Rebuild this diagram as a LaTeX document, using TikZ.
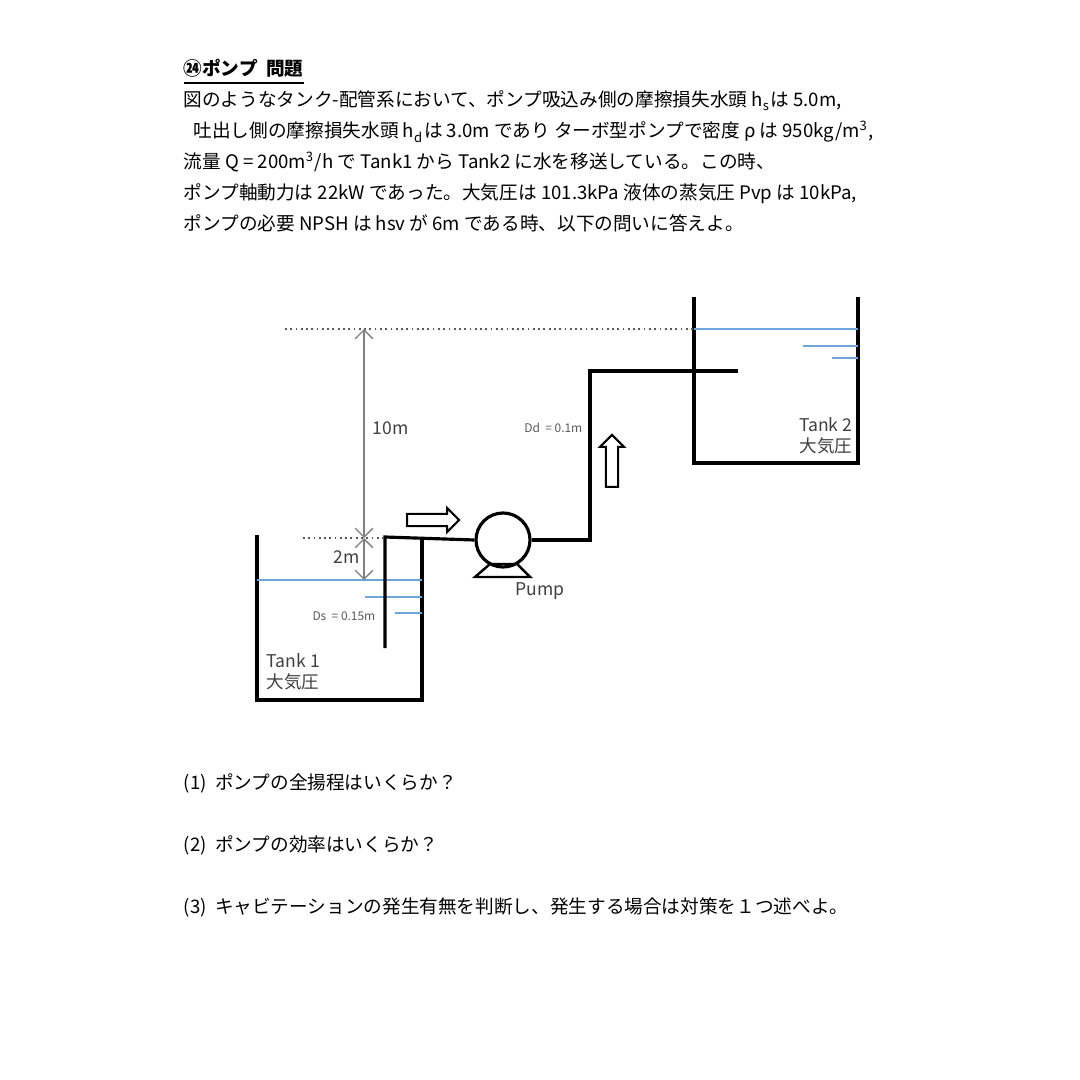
\documentclass[tikz,border=0pt]{standalone}
\usepackage{fontspec}
\setmainfont{Noto Sans CJK JP}
\usetikzlibrary{arrows.meta,shapes.arrows}
\definecolor{water}{RGB}{110,165,220}
\begin{document}
\begin{tikzpicture}[x=0.01cm,y=-0.01cm,
  pipe/.style={line width=0.9pt,black},
  wat/.style={line width=0.5pt,water},
  dots/.style={densely dotted,line width=0.5pt,gray!70!black},
  dim/.style={gray,line width=0.4pt,{Straight Barb[length=2.5pt]}-{Straight Barb[length=2.5pt]}},
  txt/.style={anchor=base west,font=\fontsize{5.3}{6}\selectfont,inner sep=0},
  lbl/.style={font=\fontsize{5}{6}\selectfont,text=black!75,inner sep=0},
  small/.style={font=\fontsize{3.4}{4}\selectfont,text=black!65,inner sep=0},
  harrow/.style={draw,single arrow,line width=0.6pt,minimum height=0.52cm,minimum width=0.24cm,single arrow head extend=0.04cm,inner sep=0.9pt}]
\useasboundingbox (0,0) rectangle (1080,1080);
% text
\node[txt,font=\bfseries\fontsize{5.3}{6}\selectfont] (t0) at (183,76) {\underline{㉔ポンプ\ \ 問題}};
\node[txt] (t1) at (183,107) {図のようなタンク-配管系において、ポンプ吸込み側の摩擦損失水頭 h\textsubscript{s}は 5.0m,};
\node[txt] (t2) at (193,138) {吐出し側の摩擦損失水頭 h\textsubscript{d}は 3.0m であり ターボ型ポンプで密度 ρ は 950kg/m\textsuperscript{3},};
\node[txt] (t3) at (183,169) {流量 Q = 200m\textsuperscript{3}/h で Tank1 から Tank2 に水を移送している。この時、};
\node[txt] (t4) at (183,200) {ポンプ軸動力は 22kW であった。大気圧は 101.3kPa 液体の蒸気圧 Pvp は 10kPa,};
\node[txt] (t5) at (183,231) {ポンプの必要 NPSH は hsv が 6m である時、以下の問いに答えよ。};
\node[txt] (q1) at (183,789) {(1)\ \ ポンプの全揚程はいくらか？};
\node[txt] (q2) at (183,851) {(2)\ \ ポンプの効率はいくらか？};
\node[txt] (q3) at (183,913) {(3)\ \ キャビテーションの発生有無を判断し、発生する場合は対策を１つ述べよ。};
% tanks
\draw[pipe] (257,535) -- (257,700) -- (422,700) -- (422,537);
\draw[pipe] (694,297) -- (694,463) -- (858,463) -- (858,297);
% water
\draw[wat] (257,580) -- (422,580);
\draw[wat] (365,597) -- (422,597);
\draw[wat] (395,613) -- (422,613);
\draw[wat] (694,329) -- (858,329);
\draw[wat] (803,346) -- (858,346);
\draw[wat] (832,358) -- (858,358);
% pump
\node[draw,circle,line width=0.9pt,minimum size=0.54cm,inner sep=0] (pump) at (503,540) {};
\draw[line width=0.7pt] (490,564) -- (517,564) -- (530,577) -- (475,577) -- cycle;
\node[lbl,anchor=west] (plbl) at (515,591) {Pump};
% pipes
\draw[pipe] (385,648) -- (385,537) -- (pump.west);
\draw[pipe] (pump.east) -- (590,540) -- (590,371) -- (738,371);
% dims
\draw[dots] (285,329) -- (694,329);
\draw[dots] (303,538) -- (385,538);
\coordinate (d1) at (364,329); \coordinate (d2) at (364,538); \coordinate (d3) at (364,580);
\draw[dim] (d1) -- (d2);
\draw[dim] (d2) -- (d3);
\node[lbl,anchor=west] (h10) at (372,428) {10m};
\node[lbl,anchor=east] (h2) at (360,557) {2m};
\node[small,anchor=east] (dd) at (583,428) {Dd\ \ = 0.1m};
\node[small,anchor=east] (ds) at (376,616) {Ds\ \ = 0.15m};
\node[lbl,anchor=east,align=right] (tk2) at (853,436) {Tank 2\\大気圧};
\node[lbl,anchor=west,align=left] (tk1) at (266,672) {Tank 1\\大気圧};
% flow arrows
\node[harrow] (fa1) at (430,520) {};
\node[harrow,rotate=90] (fa2) at (612,464) {};
\end{tikzpicture}
\end{document}
